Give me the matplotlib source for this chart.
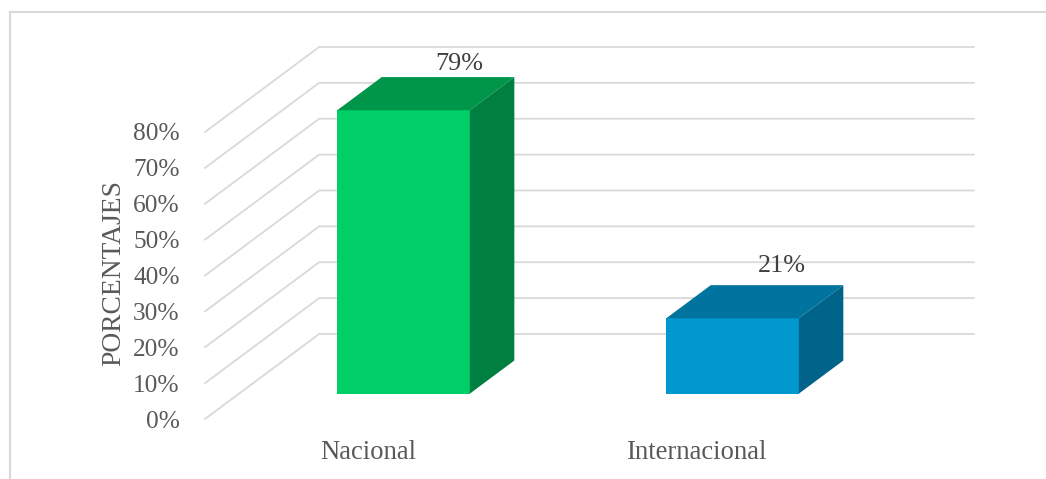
#Bar chart with a drawn 3D look: front plane is the axes, depth is an oblique offset

import matplotlib
matplotlib.use('Agg')
import matplotlib.pyplot as plt
from matplotlib.patches import Polygon
from matplotlib.transforms import ScaledTranslation

categories = ['Nacional', 'Internacional']
values = [79, 21]
value_labels = ['79%', '21%']
y_ticks = [0, 10, 20, 30, 40, 50, 60, 70, 80]
y_tick_labels = ['0%', '10%', '20%', '30%', '40%', '50%', '60%', '70%', '80%']
y_label = 'PORCENTAJES'

front_colors = ['#00CE66', '#0098CE']
top_colors = ['#00964A', '#00749E']
side_colors = ['#008040', '#00648A']

W, H = 1046, 479
grid_color = '#D9D9D9'
bar_width = 0.403
# full depth of the floor, in data units (114 px across, 85 px up)
depth_x = 0.347
depth_y = 23.7
bar_front = 0.298
bar_back = 0.688
grid_right = 1.49
# pixel nudges of the value labels from the bar's top back corner
label_dx = [-55, -61]
label_dy = [2, 8]

plt.rcParams['font.family'] = ['Liberation Serif', 'DejaVu Serif']

fig = plt.figure(figsize=(W / 100, H / 100), dpi=100)
ax = fig.add_axes([205 / W, 1 - 419 / H, 658 / W, 287 / H])
ax.set_xlim(-0.5, 1.5)
ax.set_ylim(0, 80)
for s in ax.spines.values():
    s.set_visible(False)
ax.patch.set_visible(False)

# side wall and back wall grid
for v in y_ticks:
    ax.plot([-0.5, -0.5 + depth_x, grid_right + depth_x],
            [v, v + depth_y, v + depth_y],
            color=grid_color, lw=1.3, clip_on=False, zorder=1)

for i, val in enumerate(values):
    x0 = i - bar_width / 2 + bar_front * depth_x
    x1 = x0 + bar_width
    y0 = bar_front * depth_y
    y1 = y0 + val
    dx = (bar_back - bar_front) * depth_x
    dy = (bar_back - bar_front) * depth_y
    ax.add_patch(Polygon([(x0, y0), (x1, y0), (x1, y1), (x0, y1)],
                         facecolor=front_colors[i], edgecolor='none', clip_on=False, zorder=3))
    ax.add_patch(Polygon([(x0, y1), (x1, y1), (x1 + dx, y1 + dy), (x0 + dx, y1 + dy)],
                         facecolor=top_colors[i], edgecolor='none', clip_on=False, zorder=3))
    ax.add_patch(Polygon([(x1, y0), (x1 + dx, y0 + dy), (x1 + dx, y1 + dy), (x1, y1)],
                         facecolor=side_colors[i], edgecolor='none', clip_on=False, zorder=3))
    ax.annotate(value_labels[i], (x1 + dx, y1 + dy), xytext=(label_dx[i], label_dy[i]),
                textcoords='offset pixels', ha='center', va='bottom',
                fontsize=18.8, color='#404040', zorder=4, annotation_clip=False)

ax.set_xticks(range(len(categories)))
ax.set_xticklabels(categories, fontsize=19.2, color='#595959')
ax.set_yticks(y_ticks)
ax.set_yticklabels(y_tick_labels, fontsize=18.3, color='#595959')
ax.tick_params(axis='both', length=0)
ax.tick_params(axis='x', pad=15)
ax.tick_params(axis='y', pad=18.2)
ax.set_ylabel(y_label, fontsize=19.8, color='#595959', labelpad=5.3, y=0.508)

# category labels sit a touch left of the tick position
shift = ScaledTranslation(-1 / 100, 0, fig.dpi_scale_trans)
for lbl in ax.get_xticklabels():
    lbl.set_transform(lbl.get_transform() + shift)

# outer chart frame, open on the right and bottom edges of the crop
frame = dict(color=grid_color, lw=1.5, transform=fig.transFigure, clip_on=False)
fig.add_artist(plt.Line2D([9.7 / W, 9.7 / W], [0, 1 - 12 / H], **frame))
fig.add_artist(plt.Line2D([9.7 / W, 1], [1 - 12 / H, 1 - 12 / H], **frame))

fig.savefig('out.png', dpi=100, facecolor='white')
